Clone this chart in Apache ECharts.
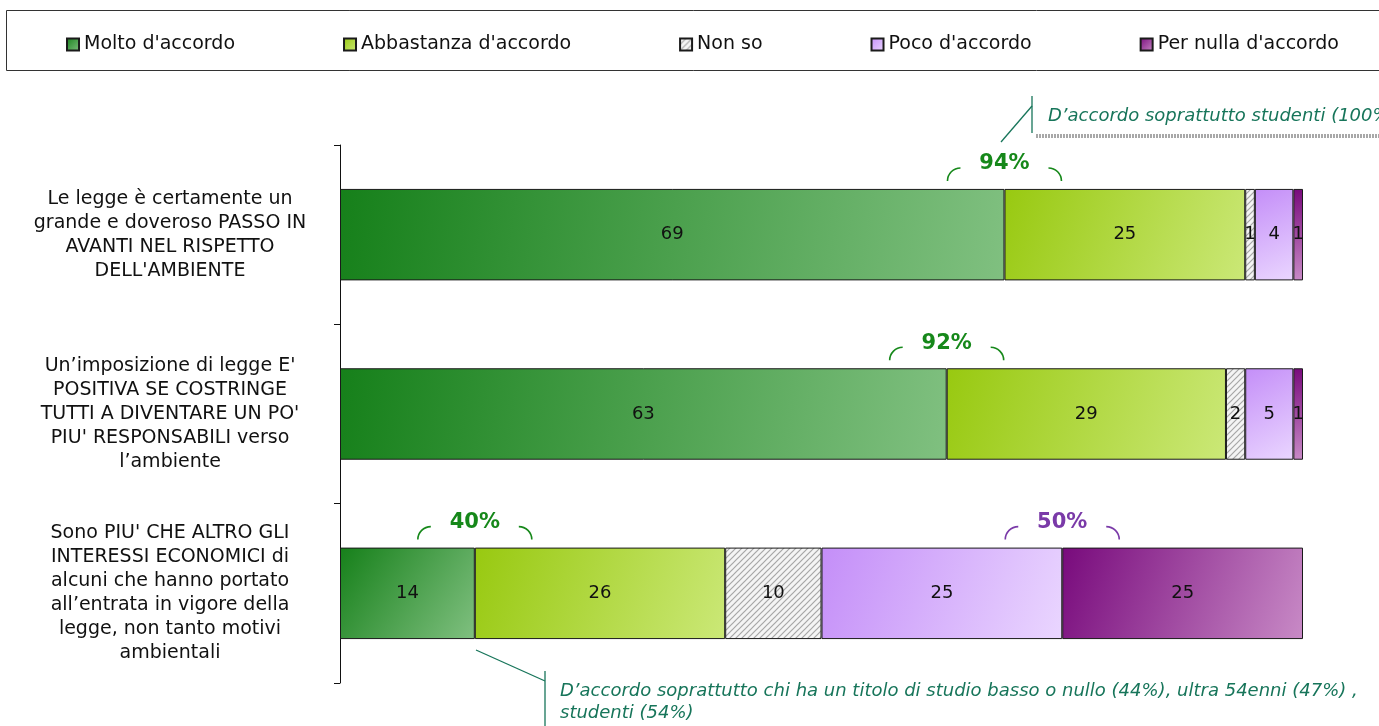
<!DOCTYPE html>
<html>
<head>
<meta charset="utf-8">
<script src="https://cdn.jsdelivr.net/npm/echarts@6/dist/echarts.min.js"></script>
<style>
  html, body { margin: 0; padding: 0; background: #fff; }
  #chart { width: 1379px; height: 726px; }
</style>
</head>
<body>
<div id="chart"></div>
<script>
// categorie (dall'alto in basso)
var categories = [
    "Le legge è certamente un\ngrande e doveroso PASSO IN\nAVANTI NEL RISPETTO\nDELL'AMBIENTE",
    "Un’imposizione di legge E'\nPOSITIVA SE COSTRINGE\nTUTTI A DIVENTARE UN PO'\nPIU' RESPONSABILI verso\nl’ambiente",
    "Sono PIU' CHE ALTRO GLI\nINTERESSI ECONOMICI di\nalcuni che hanno portato\nall’entrata in vigore della\nlegge, non tanto motivi\nambientali"
];
var seriesNames = ["Molto d'accordo", "Abbastanza d'accordo", "Non so", "Poco d'accordo", "Per nulla d'accordo"];
var molto = [69, 63, 14];
var abbastanza = [25, 29, 26];
var nonSo = [1, 2, 10];
var poco = [4, 5, 25];
var perNulla = [1, 1, 25];
// totali evidenziati sopra le barre
var accordoTot = [94, 92, 40];
var disaccordoTot = [null, null, 50];

var font = 'DejaVu Sans';

// tratteggio per "Non so"
function hatch() {
    var c = document.createElement('canvas');
    c.width = 6; c.height = 6;
    var ctx = c.getContext('2d');
    ctx.fillStyle = '#f4f4f4';
    ctx.fillRect(0, 0, 6, 6);
    ctx.strokeStyle = '#a6a6a6';
    ctx.lineWidth = 1.2;
    ctx.beginPath();
    ctx.moveTo(0, 6); ctx.lineTo(6, 0);
    ctx.moveTo(-3, 3); ctx.lineTo(3, -3);
    ctx.moveTo(3, 9); ctx.lineTo(9, 3);
    ctx.stroke();
    return c;
}

function grad(c1, c2) {
    return new echarts.graphic.LinearGradient(0, 0, 1, 1, [
        { offset: 0, color: c1 },
        { offset: 1, color: c2 }
    ]);
}

var fills = [
    grad('#16801a', '#80c080'),
    grad('#98c910', '#cbe877'),
    { image: hatch(), repeat: 'repeat' },
    grad('#c48ef8', '#ead6ff'),
    grad('#780a7c', '#c88ac6')
];
var values = [molto, abbastanza, nonSo, poco, perNulla];

var series = seriesNames.map(function (name, i) {
    return {
        name: name,
        type: 'bar',
        stack: 'tot',
        barWidth: '51%',
        data: values[i],
        itemStyle: { color: fills[i], borderColor: '#1a1a1a', borderWidth: 1 },
        label: {
            show: true,
            position: 'inside',
            color: '#111',
            fontFamily: font,
            fontSize: 18
        },
        emphasis: { disabled: true }
    };
});

// annotazioni percentuali con parentesi
var annoData = [];
for (var i = 0; i < categories.length; i++) {
    annoData.push([molto[i], i, accordoTot[i], '#16881a']);
    if (disaccordoTot[i] != null) {
        annoData.push([molto[i] + abbastanza[i] + nonSo[i] + poco[i], i, disaccordoTot[i], '#7a3aa8']);
    }
}
series.push({
    type: 'custom',
    coordinateSystem: 'cartesian2d',
    data: annoData,
    encode: { x: 0, y: 1 },
    clip: false,
    silent: true,
    renderItem: function (params, api) {
        var p = api.coord([api.value(0), api.value(1)]);
        var band = api.size([0, 1])[1];
        var top = p[1] - band * 0.255;
        var col = annoData[params.dataIndex][3];
        var r = 13, half = 57, cy = top - 8;
        return {
            type: 'group',
            children: [
                { type: 'arc', shape: { cx: p[0] - half + r, cy: cy, r: r, startAngle: Math.PI, endAngle: Math.PI * 1.5 },
                  style: { stroke: col, lineWidth: 1.6, fill: null } },
                { type: 'arc', shape: { cx: p[0] + half - r, cy: cy, r: r, startAngle: Math.PI * 1.5, endAngle: Math.PI * 2 },
                  style: { stroke: col, lineWidth: 1.6, fill: null } },
                { type: 'text', x: p[0], y: top - 25,
                  style: { text: api.value(2) + '%', fill: col, font: 'bold 21px ' + font, align: 'center', verticalAlign: 'middle' } }
            ]
        };
    }
});

var chart = echarts.init(document.getElementById('chart'));
chart.setOption({
    animation: false,
    backgroundColor: '#fff',
    legend: {
        data: seriesNames,
        icon: 'rect',
        left: 61,
        top: 30,
        itemGap: 108,
        itemWidth: 12,
        itemHeight: 12,
        textStyle: { fontFamily: font, fontSize: 19, color: '#111' },
        selectedMode: false
    },
    grid: { left: 340, right: 76, top: 145, bottom: 43 },
    xAxis: { type: 'value', min: 0, max: 100, show: false },
    yAxis: {
        type: 'category',
        data: categories,
        inverse: true,
        axisLine: { lineStyle: { color: '#111', width: 1 } },
        axisTick: { show: true, length: 6, lineStyle: { color: '#111' } },
        axisLabel: {
            margin: 170,
            align: 'center',
            fontFamily: font,
            fontSize: 19,
            lineHeight: 24,
            color: '#111'
        }
    },
    graphic: [
        { type: 'rect', shape: { x: 6.5, y: 10.5, width: 1400, height: 60 }, style: { fill: null, stroke: '#333', lineWidth: 1 } },
        // callout in alto
        { type: 'line', shape: { x1: 1001, y1: 142, x2: 1032, y2: 106 }, style: { stroke: '#17755a', lineWidth: 1.3 } },
        { type: 'line', shape: { x1: 1032, y1: 96, x2: 1032, y2: 133 }, style: { stroke: '#17755a', lineWidth: 1.3 } },
        { type: 'line', shape: { x1: 1036, y1: 136, x2: 1379, y2: 136 }, style: { stroke: '#a8a8a8', lineWidth: 4, lineDash: [2, 1] } },
        { type: 'text', x: 1048, y: 116, style: { text: 'D’accordo soprattutto studenti (100%)', fill: '#17755a', font: 'italic 18px ' + font, verticalAlign: 'middle' } },
        // callout in basso
        { type: 'line', shape: { x1: 476, y1: 650, x2: 545, y2: 681 }, style: { stroke: '#17755a', lineWidth: 1.3 } },
        { type: 'line', shape: { x1: 545, y1: 671, x2: 545, y2: 726 }, style: { stroke: '#17755a', lineWidth: 1.3 } },
        { type: 'text', x: 560, y: 680, style: { text: "D’accordo soprattutto chi ha un titolo di studio basso o nullo (44%), ultra 54enni (47%) ,\nstudenti (54%)", fill: '#17755a', font: 'italic 18px ' + font, lineHeight: 22 } }
    ],
    series: series
});
</script>
</body>
</html>
